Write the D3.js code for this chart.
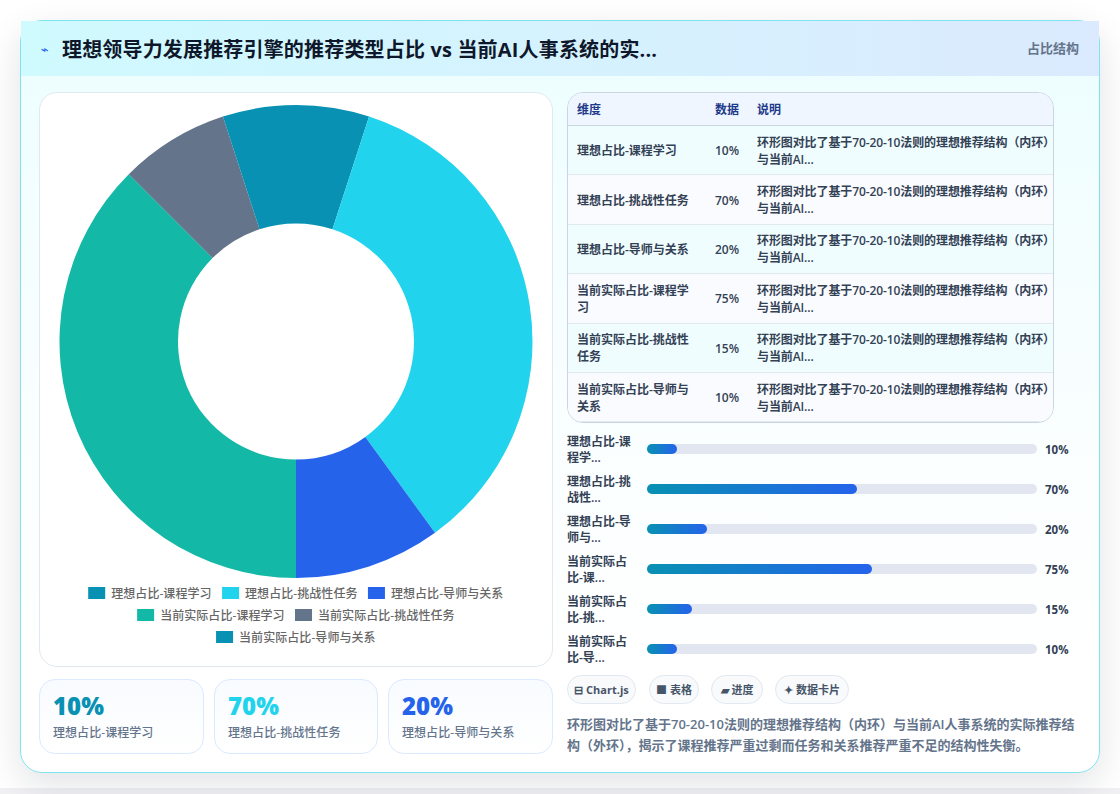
<!DOCTYPE html>
<html lang="zh-CN">
<head>
<meta charset="utf-8">
<title>理想领导力发展推荐引擎</title>
<script src="https://cdn.jsdelivr.net/npm/d3@7/dist/d3.min.js"></script>
<style>
*{box-sizing:border-box}
html,body{margin:0;padding:0;width:1120px;height:794px;overflow:hidden;background:#f1f1f4}
body{font-family:"Open Sans","Noto Sans CJK SC",sans-serif;color:#334155}
#bg{position:absolute;left:0;top:0;width:1120px;height:788px;background:#fff}
#card{position:absolute;left:20px;top:20px;width:1080px;height:753px;border:1px solid #7fe3f0;border-radius:22px;
 background:linear-gradient(180deg,#ecfeff 0,#f8feff 45%,#ffffff 85%);box-shadow:0 12px 36px rgba(15,23,42,.12)}
#head{position:absolute;left:0;top:0;width:1078px;height:55px;background:linear-gradient(90deg,#cffafe,#dbeafe);}
#icon{position:absolute;left:20px;top:20px;font-family:"DejaVu Sans",sans-serif;font-size:13px;font-weight:700;color:#2563eb;line-height:18px}
#title{position:absolute;left:41px;top:14px;font-size:20px;font-weight:700;color:#0f172a;line-height:30px;white-space:nowrap;letter-spacing:.17px}
#tag{position:absolute;right:20px;top:18px;font-size:13px;font-weight:600;color:#64748b;line-height:18px}
#chartbox{position:absolute;left:18px;top:71px;width:514px;height:575px;border:1px solid #e2e8f0;border-radius:18px;background:#fff}
svg{position:absolute;left:0;top:0}
.legend{font-size:12px;fill:#666;font-weight:500;letter-spacing:.06px}
#tbl{position:absolute;left:546px;top:71px;width:487px;height:331px;border:1px solid #cbd5e1;border-radius:16px;overflow:hidden}
#tbl .r{position:absolute;left:0;width:485px;border-bottom:1px solid #e2e8f0;font-size:12px;font-weight:600;color:#334155}
#tbl .r.hd{top:0;height:33px;background:#eff6ff;border-bottom:1px solid #cbd5e1;color:#1e3a8a;font-weight:700}
#tbl .c{position:absolute;top:1px;bottom:0;display:flex;align-items:center;line-height:17px;white-space:nowrap}
#tbl .c.n{letter-spacing:-.1px}
.pct{position:absolute;font-size:11.5px;font-weight:700;color:#334155;line-height:16px}
.blab{position:absolute;left:546px;width:68px;font-size:12px;font-weight:600;color:#334155;line-height:16px}
.kpi{position:absolute;top:658px;height:75px;border:1px solid #dbeafe;border-radius:16px;background:linear-gradient(180deg,#f8fbff,#fff)}
.kpi b{position:absolute;left:13px;top:9px;font-size:24px;font-weight:800;line-height:34px;font-family:"Open Sans",sans-serif}
.kpi span{position:absolute;left:13px;top:44px;font-size:12px;font-weight:500;color:#64748b;line-height:18px;white-space:nowrap;letter-spacing:.06px}
.pill{position:absolute;top:654px;height:29px;border:1px solid #e2e8f0;border-radius:15px;background:#f8fafc;font-size:11px;font-weight:700;color:#475569;line-height:27px;text-align:center;white-space:nowrap}
#note{position:absolute;left:546px;top:693px;width:530px;font-size:13px;font-weight:600;color:#64748b;line-height:21px;white-space:nowrap}
</style>
</head>
<body>
<div id="bg"></div>
<div id="card">
  <div id="head">
    <div id="icon">⌁</div>
    <div id="title"></div>
    <div id="tag"></div>
  </div>
  <div id="chartbox"></div>
  <div id="tbl"></div>
  <div id="note"></div>
</div>
<script>
const titleText = "理想领导力发展推荐引擎的推荐类型占比 vs 当前AI人事系统的实...";
const tagText = "占比结构";
const categories = ["理想占比-课程学习","理想占比-挑战性任务","理想占比-导师与关系","当前实际占比-课程学习","当前实际占比-挑战性任务","当前实际占比-导师与关系"];
const values = [10,70,20,75,15,10];
const colors = ["#0891b2","#22d3ee","#2563eb","#14b8a6","#64748b","#0891b2"];
const tableHead = ["维度","数据","说明"];
const rowNote = ["环形图对比了基于70-20-10法则的理想推荐结构（内环）","与当前AI..."];
const tableCat = [["理想占比-课程学习"],["理想占比-挑战性任务"],["理想占比-导师与关系"],["当前实际占比-课程学","习"],["当前实际占比-挑战性","任务"],["当前实际占比-导师与","关系"]];
const barCat = [["理想占比-课","程学..."],["理想占比-挑","战性..."],["理想占比-导","师与..."],["当前实际占","比-课..."],["当前实际占","比-挑..."],["当前实际占","比-导..."]];
const pills = ["⊟ Chart.js","■ 表格","▰ 进度","✦ 数据卡片"];
const noteLines = ["环形图对比了基于70-20-10法则的理想推荐结构（内环）与当前AI人事系统的实际推荐结","构（外环），揭示了课程推荐严重过剩而任务和关系推荐严重不足的结构性失衡。"];

const card = d3.select("#card");
d3.select("#title").text(titleText);
d3.select("#tag").text(tagText);
d3.select("#note").html(noteLines.join("<br>"));

// Drawing layer in the card's own coordinates
const svg = card.append("svg").attr("width",1080).attr("height",753);
const defs = svg.append("defs");
const grad = defs.append("linearGradient").attr("id","barFill");
grad.append("stop").attr("offset","0").attr("stop-color","#0891b2");
grad.append("stop").attr("offset","1").attr("stop-color","#2563eb");

// Donut
const pie = d3.pie().sort(null).value(d=>d);
const arc = d3.arc().innerRadius(118).outerRadius(236.5);
svg.append("g").attr("transform","translate(275,320.5)")
  .selectAll("path").data(pie(values)).join("path")
  .attr("d",arc).attr("fill",(d,i)=>colors[i]);

// Legend, centred row by row
const legendRows = [[0,1,2],[3,4],[5]];
const ctx = document.createElement("canvas").getContext("2d");
ctx.font = '500 12px "Open Sans","Noto Sans CJK SC",sans-serif';
legendRows.forEach((row,ri)=>{
  const widths = row.map(i=>23+ctx.measureText(categories[i]).width+1);
  const gap = 10;
  const total = d3.sum(widths)+gap*(row.length-1);
  let x = 275-total/2;
  row.forEach((i,k)=>{
    const y = 566+ri*22;
    svg.append("rect").attr("x",x).attr("y",y).attr("width",17).attr("height",12).attr("fill",colors[i]);
    svg.append("text").attr("class","legend").attr("x",x+23).attr("y",y+10.5).text(categories[i]);
    x += widths[k]+gap;
  });
});

// Table
const tbl = d3.select("#tbl");
const colX = [9,147,189];
const hd = tbl.append("div").attr("class","r hd");
tableHead.forEach((t,i)=>hd.append("div").attr("class","c").style("left",colX[i]+"px").text(t));
const rowH = d3.scaleBand().domain(d3.range(values.length)).range([33,329.4]);
categories.forEach((c,i)=>{
  const r = tbl.append("div").attr("class","r")
    .style("top",rowH(i)+"px").style("height",rowH.bandwidth()+"px")
    .style("background",i%2?"#fafbff":"#f0fdff");
  r.append("div").attr("class","c").style("left",colX[0]+"px").html(tableCat[i].join("<br>"));
  r.append("div").attr("class","c").style("left",colX[1]+"px").text(values[i]+"%");
  r.append("div").attr("class","c n").style("left",colX[2]+"px").html(rowNote.join("<br>"));
});

// Progress bars
const xBar = d3.scaleLinear().domain([0,130]).range([626,1016]);
const yBar = d3.scaleBand().domain(d3.range(values.length)).range([408,648]);
const barsG = svg.append("g");
values.forEach((v,i)=>{
  const cy = yBar(i)+yBar.bandwidth()/2;
  barsG.append("rect").attr("x",xBar(0)).attr("y",cy-5).attr("width",xBar(130)-xBar(0)).attr("height",10).attr("rx",5).attr("fill","#e2e6f0");
  barsG.append("rect").attr("x",xBar(0)).attr("y",cy-5).attr("width",xBar(v)-xBar(0)).attr("height",10).attr("rx",5).attr("fill","url(#barFill)");
  card.append("div").attr("class","pct").style("left","1024px").style("top",(cy-7)+"px").text(v+"%");
  card.append("div").attr("class","blab").style("top",(cy-15)+"px").html(barCat[i].join("<br>"));
});

// Pills
const pillX = [546,628,690,754], pillW = [69,50,52,74];
pills.forEach((p,i)=>card.append("div").attr("class","pill").style("left",pillX[i]+"px").style("width",pillW[i]+"px").text(p));

// KPI cards
const kpiX = [18,193,367], kpiW = [165,164,165];
[0,1,2].forEach(i=>{
  const k = card.append("div").attr("class","kpi").style("left",kpiX[i]+"px").style("width",kpiW[i]+"px");
  k.append("b").style("color",colors[i]).text(values[i]+"%");
  k.append("span").text(categories[i]);
});
</script>
</body>
</html>
